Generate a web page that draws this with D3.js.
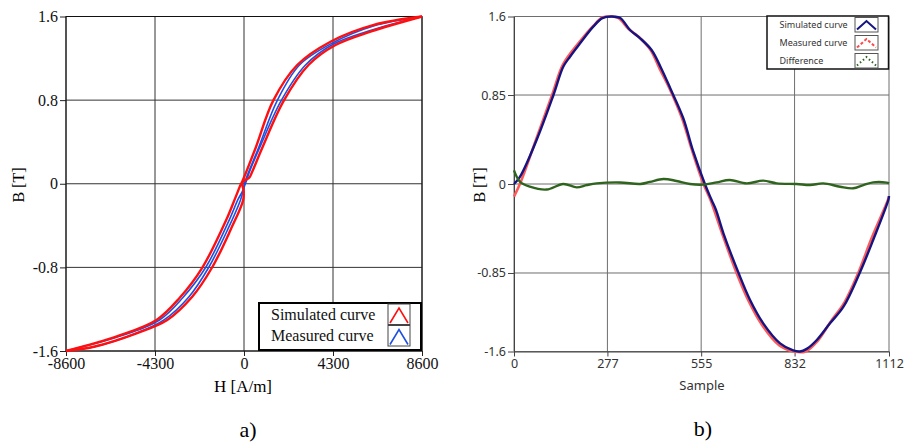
<!DOCTYPE html>
<html>
<head>
<meta charset="utf-8">
<script src="https://cdn.jsdelivr.net/npm/d3@7"></script>
<style>
  body { margin: 0; background: #fff; }
  svg { display: block; }
</style>
</head>
<body>
<svg id="chart"></svg>
<script>
// Panel a) hysteresis loop, [H (A/m), B (T)] pairs
const hTicks = [-8600, -4300, 0, 4300, 8600];
const bTicksA = [-1.6, -0.8, 0, 0.8, 1.6];

const simDescending = [
  [8600, 1.6], [6272, 1.52], [4179, 1.359], [2570, 1.136], [1411, 0.795],
  [556, 0.34], [-87, 0.02], [-169, -0.012], [-410, -0.13], [-845, -0.34],
  [-2005, -0.799], [-3116, -1.093], [-4227, -1.303], [-6111, -1.458], [-8600, -1.6]
];
const simAscending = [
  [-8600, -1.6], [-7256, -1.559], [-5160, -1.428], [-3710, -1.303], [-2502, -1.081],
  [-1536, -0.799], [-652, -0.442], [-39, -0.155], [-20, -0.06], [-90, 0.01],
  [260, 0.06], [396, 0.115], [879, 0.342], [1923, 0.795], [3116, 1.136],
  [4420, 1.327], [6111, 1.455], [8600, 1.6]
];
const measDescending = [
  [8600, 1.6], [6256, 1.509], [4276, 1.347], [2681, 1.136], [1604, 0.795],
  [700, 0.342], [48, 0.02], [-48, -0.06], [-290, -0.15], [-700, -0.34],
  [-1846, -0.799], [-2971, -1.093], [-4082, -1.303], [-6015, -1.46], [-8600, -1.6]
];
const measAscending = [
  [-8600, -1.6], [-7174, -1.557], [-5242, -1.433], [-3865, -1.303], [-2657, -1.081],
  [-1700, -0.799], [-797, -0.442], [-169, -0.155], [10, -0.03], [120, 0.03],
  [266, 0.115], [749, 0.342], [1797, 0.795], [2971, 1.136], [4324, 1.337],
  [6015, 1.461], [8600, 1.6]
];

// Panel b) waveforms, [sample, B (T)]
const sampleTicks = [0, 277, 555, 832, 1112];
const bTicksB = [-1.6, -0.85, 0, 0.85, 1.6];

const simWave = [
  [0, 0], [18, 0.07], [67, 0.42], [117, 0.85], [146, 1.12], [166, 1.216], [196, 1.344],
  [235, 1.503], [262, 1.585], [290, 1.6], [315, 1.585], [344, 1.471], [374, 1.392],
  [408, 1.28], [436, 1.108], [463, 0.917], [502, 0.628], [530, 0.325], [566, 0],
  [586, -0.153], [599, -0.248], [621, -0.471], [665, -0.843], [700, -1.108],
  [739, -1.331], [789, -1.522], [828, -1.59], [848, -1.6], [868, -1.575], [898, -1.49],
  [937, -1.331], [977, -1.172], [1026, -0.843], [1065, -0.535], [1110, -0.153],
  [1112, -0.115]
];
const measWave = [
  [0, -0.12], [20, 0.02], [67, 0.44], [115, 0.87], [145, 1.14], [195, 1.36], [235, 1.51],
  [262, 1.59], [287, 1.6], [310, 1.585], [340, 1.48], [372, 1.4], [405, 1.28], [432, 1.1],
  [460, 0.92], [498, 0.63], [527, 0.33], [562, 0], [583, -0.155], [618, -0.48],
  [660, -0.85], [696, -1.12], [736, -1.35], [786, -1.54], [830, -1.6], [865, -1.6],
  [900, -1.5], [940, -1.31], [980, -1.13], [1022, -0.84], [1060, -0.52], [1108, -0.16],
  [1112, -0.12]
];
const diffWave = [
  [0, 0.13], [18, 0.02], [47, -0.026], [97, -0.053], [146, 0], [186, -0.032], [216, -0.01],
  [245, 0.006], [314, 0.015], [374, 0], [403, 0.02], [443, 0.048], [482, 0.029],
  [522, 0], [561, -0.006], [601, 0.015], [640, 0.038], [690, 0.006], [739, 0.032],
  [779, 0.006], [838, 0], [878, -0.01], [917, 0.006], [967, -0.026], [1006, -0.041],
  [1036, -0.01], [1065, 0.016], [1105, 0.013], [1112, 0.006]
];

const width = 906, height = 444;
const serif = "'Liberation Serif', 'Times New Roman', serif";
const sans = "'Noto Sans', 'Open Sans', sans-serif";

const svg = d3.select("#chart").attr("width", width).attr("height", height);

// ---------- panel a ----------
const ax = d3.scaleLinear().domain([-8600, 8600]).range([66, 422]);
const ay = d3.scaleLinear().domain([-1.6, 1.6]).range([351, 16.5]);
const gA = svg.append("g");

gA.append("g").selectAll("line").data(hTicks).join("line")
    .attr("x1", d => ax(d)).attr("x2", d => ax(d))
    .attr("y1", ay(-1.6)).attr("y2", ay(1.6))
    .attr("stroke", "#333").attr("stroke-width", 1);
gA.append("g").selectAll("line").data(bTicksA).join("line")
    .attr("x1", ax(-8600)).attr("x2", ax(8600))
    .attr("y1", d => ay(d)).attr("y2", d => ay(d))
    .attr("stroke", "#333").attr("stroke-width", 1);

const axisA = (g) => {
    g.selectAll(".domain").remove();
    g.selectAll(".tick line").attr("stroke", "#222");
    g.selectAll("text").attr("font-family", serif).attr("font-size", 16).attr("fill", "#111");
};
gA.append("g").attr("transform", `translate(0,${ay(-1.6)})`)
    .call(d3.axisBottom(ax).tickValues(hTicks).tickSize(5).tickPadding(2).tickFormat(d => String(d)))
    .call(axisA);
gA.append("g").attr("transform", `translate(${ax(-8600)},0)`)
    .call(d3.axisLeft(ay).tickValues(bTicksA).tickSize(6).tickPadding(2).tickFormat(d => String(d)))
    .call(axisA);

gA.append("rect").attr("x", ax(-8600)).attr("y", ay(1.6))
    .attr("width", ax(8600) - ax(-8600)).attr("height", ay(-1.6) - ay(1.6))
    .attr("fill", "none").attr("stroke", "#111").attr("stroke-width", 1);

const lineA = d3.line().x(d => ax(d[0])).y(d => ay(d[1])).curve(d3.curveCatmullRom);
[measDescending, measAscending].forEach(branch => {
    gA.append("path").attr("d", lineA(branch)).attr("fill", "none")
        .attr("stroke", "#1f4fe0").attr("stroke-width", 1.6);
});
[simDescending, simAscending].forEach(branch => {
    gA.append("path").attr("d", lineA(branch)).attr("fill", "none")
        .attr("stroke", "#ff1010").attr("stroke-width", 2.4);
});

gA.append("text").attr("transform", `translate(24,185) rotate(-90)`)
    .attr("text-anchor", "middle").attr("font-family", serif).attr("font-size", 16).text("B [T]");
gA.append("text").attr("x", 243).attr("y", 392)
    .attr("text-anchor", "middle").attr("font-family", serif).attr("font-size", 17).text("H [A/m]");
gA.append("text").attr("x", 248).attr("y", 437)
    .attr("text-anchor", "middle").attr("font-family", serif).attr("font-size", 22).text("a)");

// legend a
const legA = gA.append("g");
legA.append("rect").attr("x", 259).attr("y", 303).attr("width", 162).attr("height", 47)
    .attr("fill", "#fff").attr("stroke", "#000").attr("stroke-width", 2);
[["Simulated curve", "#ff1010"], ["Measured curve", "#1f4fe0"]].forEach(([name, col], i) => {
    const y0 = 304 + i * 21.5;
    legA.append("text").attr("x", 271).attr("y", y0 + 15.5)
        .attr("font-family", serif).attr("font-size", 16).attr("fill", "#111").text(name);
    legA.append("rect").attr("x", 388).attr("y", y0).attr("width", 22).attr("height", 20.5)
        .attr("fill", "#fff").attr("stroke", "#444").attr("stroke-width", 1);
    legA.append("path")
        .attr("d", `M${390},${y0 + 19} L${399},${y0 + 4} L${408},${y0 + 19}`)
        .attr("fill", "none").attr("stroke", col).attr("stroke-width", 1.6);
});

// ---------- panel b ----------
const bx = d3.scaleLinear().domain([0, 1112]).range([514, 889]);
const by = d3.scaleLinear().domain([-1.6, 1.6]).range([351.5, 16.5]);
const gB = svg.append("g");

gB.append("g").selectAll("line").data(sampleTicks).join("line")
    .attr("x1", d => bx(d)).attr("x2", d => bx(d))
    .attr("y1", by(-1.6)).attr("y2", by(1.6))
    .attr("stroke", "#6e6e6e").attr("stroke-width", 1);
gB.append("g").selectAll("line").data(bTicksB).join("line")
    .attr("x1", bx(0)).attr("x2", bx(1112))
    .attr("y1", d => by(d)).attr("y2", d => by(d))
    .attr("stroke", "#6e6e6e").attr("stroke-width", 1);

const axisB = (g) => {
    g.selectAll(".domain").attr("stroke", "#444");
    g.selectAll(".tick line").attr("stroke", "#444");
    g.selectAll("text").attr("font-family", sans).attr("font-size", 12.5).attr("fill", "#333");
};
gB.append("g").attr("transform", `translate(0,${by(-1.6)})`)
    .call(d3.axisBottom(bx).tickValues(sampleTicks).tickSizeInner(5).tickSizeOuter(0).tickPadding(3).tickFormat(d => String(d)))
    .call(axisB);
gB.append("g").attr("transform", `translate(${bx(0)},0)`)
    .call(d3.axisLeft(by).tickValues(bTicksB).tickSizeInner(6).tickSizeOuter(0).tickPadding(2).tickFormat(d => String(d)))
    .call(axisB);

const lineB = d3.line().x(d => bx(d[0])).y(d => by(d[1])).curve(d3.curveCatmullRom);
gB.append("path").attr("d", lineB(measWave)).attr("fill", "none")
    .attr("stroke", "#ff5a5a").attr("stroke-width", 2.6);
gB.append("path").attr("d", lineB(simWave)).attr("fill", "none")
    .attr("stroke", "#141482").attr("stroke-width", 2.4);
gB.append("path").attr("d", lineB(diffWave)).attr("fill", "none")
    .attr("stroke", "#2f641e").attr("stroke-width", 2.4);

gB.append("text").attr("transform", `translate(485,185) rotate(-90)`)
    .attr("text-anchor", "middle").attr("font-family", serif).attr("font-size", 16).text("B [T]");
gB.append("text").attr("x", 702).attr("y", 390)
    .attr("text-anchor", "middle").attr("font-family", sans).attr("font-size", 13).attr("fill", "#333").text("Sample");
gB.append("text").attr("x", 703).attr("y", 436)
    .attr("text-anchor", "middle").attr("font-family", serif).attr("font-size", 22).text("b)");

// legend b
const legB = gB.append("g");
legB.append("rect").attr("x", 767).attr("y", 16).attr("width", 121.5).attr("height", 53)
    .attr("fill", "#fff").attr("stroke", "#111").attr("stroke-width", 1.5);
const legItems = [
    ["Simulated curve", "#141482", null],
    ["Measured curve", "#ff4a4a", "3,2"],
    ["Difference", "#2f641e", "1.5,2.5"]
];
legItems.forEach(([name, col, dash], i) => {
    const y0 = 17.5 + i * 18;
    legB.append("text").attr("x", 779.5).attr("y", y0 + 10.5)
        .attr("font-family", sans).attr("font-size", 9).attr("fill", "#333").text(name);
    legB.append("rect").attr("x", 855).attr("y", y0).attr("width", 23).attr("height", 14.5)
        .attr("fill", "#fff").attr("stroke", "#555").attr("stroke-width", 1);
    legB.append("path")
        .attr("d", `M${857},${y0 + 12} L${866.5},${y0 + 3.5} L${876},${y0 + 12}`)
        .attr("fill", "none").attr("stroke", col).attr("stroke-width", 2)
        .attr("stroke-dasharray", dash);
});
</script>
</body>
</html>
